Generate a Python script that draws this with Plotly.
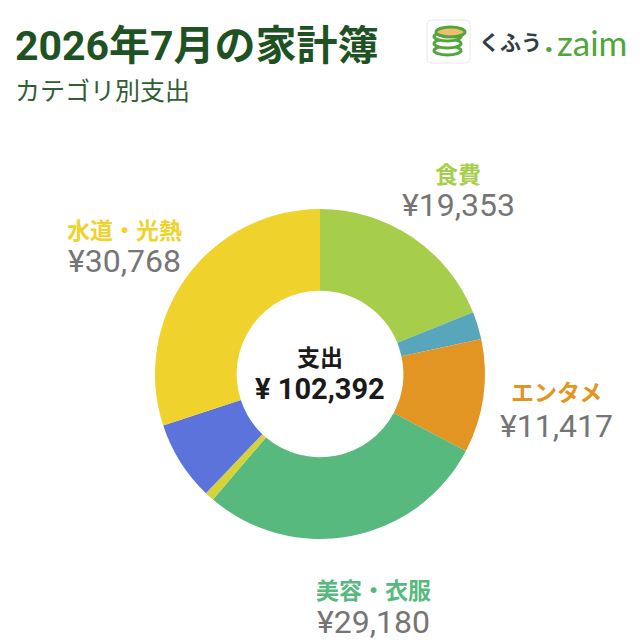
import plotly.graph_objects as go

# カテゴリ別支出
categories = ['食費', 'その他A', 'エンタメ', '美容・衣服', 'その他B', 'その他C', '水道・光熱']
values = [19353, 2750, 11417, 29180, 940, 7984, 30768]
colors = ['#A6CE4B', '#58A6BC', '#E39524', '#58B97F', '#D6D23A', '#5C73DB', '#F0D22D']

labels = ['食費', 'エンタメ', '美容・衣服', '水道・光熱']
amounts = ['¥19,353', '¥11,417', '¥29,180', '¥30,768']
label_colors = ['#A6CE4B', '#E39524', '#58B97F', '#F0D22D']
label_x = [458, 556, 373, 124]
label_y = [175, 393, 591, 231]
amount_y = [205, 426, 622, 261]

title = '2026年7月の家計簿'
subtitle = 'カテゴリ別支出'
total = '¥ 102,392'

JP = 'Roboto, "Noto Sans CJK JP", sans-serif'


def px(x):
    return x / 640


def py(y):
    return 1 - y / 640


fig = go.Figure()

fig.add_trace(go.Pie(labels=categories, values=values, sort=False, direction='clockwise',
                     rotation=0, hole=0.505, textinfo='none', showlegend=False,
                     marker=dict(colors=colors, line=dict(width=0)),
                     domain=dict(x=[px(155), px(485)], y=[py(539), py(209)])))


def add_text(x, y, text, size, color, anchor='center', bold=False, family=JP):
    if bold:
        text = f'<b>{text}</b>'
    fig.add_annotation(x=px(x), y=py(y), xref='paper', yref='paper', text=text, showarrow=False,
                       xanchor=anchor, yanchor='middle', borderpad=0, borderwidth=0,
                       font=dict(family=family, size=size, color=color))


add_text(15, 46, title, 41, '#1F5223', anchor='left', bold=True)
add_text(15, 91, subtitle, 25, '#2F5E33', anchor='left')

for i in range(len(labels)):
    add_text(label_x[i], label_y[i], labels[i], 23, label_colors[i], bold=True)
    add_text(label_x[i], amount_y[i], amounts[i], 32, '#757575')

add_text(320, 358, '支出', 23, '#1A1A1A', bold=True)
add_text(320, 389, total, 29, '#1A1A1A', bold=True)

# ロゴ
green = '#4FA63A'
box = (f'M {px(432)} {py(20)} L {px(465)} {py(20)} Q {px(470)} {py(20)} {px(470)} {py(25)} '
       f'L {px(470)} {py(58)} Q {px(470)} {py(63)} {px(465)} {py(63)} L {px(432)} {py(63)} '
       f'Q {px(427)} {py(63)} {px(427)} {py(58)} L {px(427)} {py(25)} Q {px(427)} {py(20)} {px(432)} {py(20)} Z')
fig.add_shape(type='path', xref='paper', yref='paper', path=box,
              line=dict(color='#E8E8E8', width=1), fillcolor='white')
for top in [46, 39, 32]:
    fig.add_shape(type='circle', xref='paper', yref='paper', x0=px(434), x1=px(461), y0=py(top + 9), y1=py(top),
                  line=dict(color=green, width=3), fillcolor='white')
fig.add_shape(type='circle', xref='paper', yref='paper', x0=px(436), x1=px(465), y0=py(37), y1=py(27),
              line=dict(color=green, width=3), fillcolor='#F0BE6E')

add_text(479, 43, 'くふう', 21, '#2F3E46', anchor='left', bold=True)
add_text(544, 40, '.', 34, green, anchor='left', bold=True)
add_text(557, 42, 'zaim', 35, green, anchor='left', family='Lato, sans-serif')

fig.update_layout(width=640, height=640, margin=dict(l=0, r=0, t=0, b=0),
                  paper_bgcolor='white', plot_bgcolor='white')

# ページ既定の余白を消す
fig.write_html("out.html", config=dict(displayModeBar=False),
               post_script="document.body.style.margin='0';")
